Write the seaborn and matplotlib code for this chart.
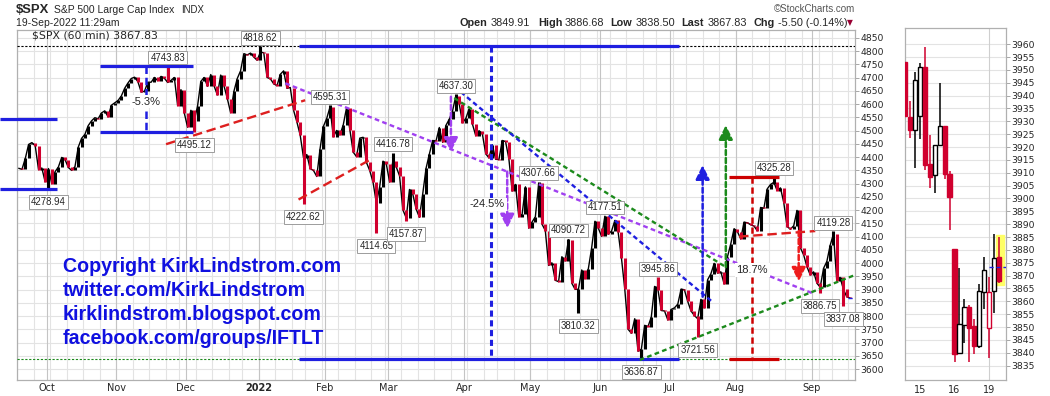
import numpy as np
import pandas as pd
import matplotlib
matplotlib.use("Agg")
import matplotlib.pyplot as plt
from matplotlib.patches import Rectangle
import seaborn as sns

# ---- data --------------------------------------------------------------
START = "2021-09-20"
END = "2022-09-19"
HOLIDAYS = ["2021-11-25", "2021-12-24", "2022-01-17", "2022-02-21",
            "2022-04-15", "2022-05-30", "2022-06-20", "2022-07-04", "2022-09-05"]

# daily closes (one per trading day)
sep21 = [4358, 4354, 4395, 4448, 4455, 4443, 4353, 4359, 4307]
oct21 = [4357, 4300, 4345, 4363, 4399, 4391, 4361, 4350, 4364, 4438, 4471,
         4486, 4519, 4537, 4549, 4545, 4567, 4575, 4552, 4596, 4605]
nov21 = [4614, 4631, 4660, 4680, 4697, 4702, 4685, 4646, 4649, 4683, 4683,
         4701, 4689, 4705, 4698, 4682, 4690, 4701, 4595, 4655, 4567]
dec21 = [4513, 4577, 4538, 4592, 4686, 4701, 4668, 4712, 4669, 4635, 4710,
         4669, 4621, 4568, 4649, 4697, 4726, 4791, 4786, 4793, 4778, 4766]
jan22 = [4797, 4794, 4701, 4696, 4677, 4670, 4713, 4726, 4660, 4663, 4577,
         4533, 4483, 4398, 4410, 4357, 4350, 4327, 4432, 4516]
feb22 = [4546, 4589, 4477, 4501, 4484, 4522, 4587, 4504, 4419, 4402, 4472,
         4475, 4380, 4349, 4305, 4226, 4288, 4385, 4374]
mar22 = [4306, 4387, 4363, 4329, 4201, 4171, 4278, 4260, 4204, 4173, 4262,
         4358, 4412, 4463, 4461, 4512, 4456, 4520, 4543, 4575, 4632, 4602, 4530]
apr22 = [4546, 4583, 4525, 4481, 4500, 4488, 4413, 4397, 4447, 4392, 4391,
         4463, 4459, 4394, 4272, 4297, 4175, 4184, 4288, 4132]
may22 = [4155, 4175, 4301, 4147, 4123, 3991, 4001, 3935, 3930, 4024, 4008,
         4088, 3924, 3901, 3901, 3974, 3941, 3979, 4058, 4158, 4132]
jun22 = [4101, 4177, 4109, 4121, 4161, 4116, 4018, 3901, 3750, 3735, 3790,
         3667, 3675, 3765, 3760, 3796, 3912, 3900, 3821, 3819, 3785]
jul22 = [3825, 3831, 3845, 3902, 3899, 3855, 3819, 3802, 3790, 3863, 3831,
         3937, 3960, 3999, 3962, 3967, 3921, 4024, 4073, 4130]
aug22 = [4119, 4091, 4155, 4152, 4145, 4140, 4122, 4210, 4207, 4280, 4297,
         4305, 4274, 4284, 4228, 4138, 4128, 4141, 4199, 4058, 4031, 3986, 3955]
sep22 = [3967, 3924, 3909, 3980, 4006, 4067, 4110, 3933, 3946, 3901, 3873, 3868]

# labelled pivots: date, price, side
pivot_dates = ["2022-01-03", "2021-11-22", "2021-12-03", "2021-10-01", "2022-02-02",
               "2022-01-21", "2022-03-02", "2022-02-23", "2022-03-08", "2022-03-29",
               "2022-05-04", "2022-05-17", "2022-06-02", "2022-06-27", "2022-05-20",
               "2022-06-17", "2022-07-14", "2022-08-16", "2022-09-12", "2022-09-06",
               "2022-09-15"]
pivot_prices = [4818.62, 4743.83, 4495.12, 4278.94, 4595.31, 4222.62, 4416.78,
                4114.65, 4157.87, 4637.30, 4307.66, 4090.72, 4177.51, 3945.86,
                3810.32, 3636.87, 3721.56, 4325.28, 4119.28, 3886.75, 3837.08]
pivot_sides = ["hi", "hi", "lo", "lo", "hi", "lo", "hi", "lo", "lo", "hi", "hi",
               "hi", "hi", "hi", "lo", "lo", "lo", "hi", "hi", "lo", "lo"]

# horizontal levels: start, end, price
blue_levels = [("2021-09-13", "2021-10-06", 4543), ("2021-09-13", "2021-10-06", 4278.94),
               ("2021-10-25", "2021-12-03", 4743.83), ("2021-10-25", "2021-12-03", 4495.12),
               ("2022-01-20", "2022-07-07", 4818.62), ("2022-01-20", "2022-07-07", 3636.87)]
red_levels = [("2022-07-28", "2022-08-18", 4325.28), ("2022-07-28", "2022-08-18", 3636.87)]

# trendlines: start date, price, end date, price
red_trends = [("2021-11-22", 4449, "2022-01-24", 4615), ("2022-01-20", 4240, "2022-02-22", 4393),
              ("2022-08-02", 4100, "2022-09-02", 4121)]
purple_trends = [("2022-01-13", 4679, "2022-09-01", 3887)]
green_trends = [("2022-03-29", 4623, "2022-07-27", 3985), ("2022-06-17", 3634, "2022-09-21", 3955)]
blue_trends = [("2022-03-31", 4646, "2022-07-21", 3853)]

# arrows: date, from, to
purple_arrows = [("2022-03-28", 4628, 4420), ("2022-04-21", 4345, 4131)]
blue_arrows = [("2022-07-18", 3873, 4370)]
green_arrows = [("2022-07-27", 3985, 4521)]
red_arrows = [("2022-08-26", 4121, 3930)]

# percentage moves
pct_dates = ["2021-11-12", "2022-04-12", "2022-08-08"]
pct_prices = [4609, 4222, 3974]
pct_texts = ["-5.3%", "-24.5%", "18.7%"]

# right panel: last 60-min candles
c_open = [3953, 3931.6, 3926.7, 3932, 3951, 3913.4, 3909.2, 3920.8, 3928.2, 3909.6,
          3880.4, 3839.8, 3850.6, 3857.7, 3850.4, 3842.8, 3863.5, 3849.5, 3864, 3877.2]
c_high = [3953, 3938, 3949.3, 3952.8, 3959, 3924.7, 3920.8, 3944.8, 3928.2, 3910.5,
          3880.4, 3873.1, 3860.8, 3858.5, 3853.2, 3866.8, 3877.2, 3869.6, 3886.2, 3885.2]
c_low = [3930, 3923.4, 3911.8, 3923, 3911, 3904, 3902, 3920.8, 3907.5, 3887.7,
         3836.5, 3839.8, 3843.9, 3836.5, 3839.6, 3842, 3857, 3837.8, 3855.6, 3867.3]
c_close = [3932, 3926.7, 3946, 3951, 3913, 3908.5, 3920.8, 3928.2, 3909.6, 3900.7,
           3839.6, 3851.1, 3857.7, 3849.8, 3842.8, 3864, 3872.2, 3863.5, 3876.8, 3867.8]
day_labels = ["15", "16", "19"]
day_first_bar = [3, 10, 17]
prev_close = 3873.33

RED = "#d0002e"
BLUE = "#1f1fe0"
PURPLE = "#a040f0"
GREEN = "#1c8a1c"

sns.set_style("white")
plt.rcParams["font.family"] = ["Liberation Sans", "DejaVu Sans"]

W, H = 1050, 396
fig = plt.figure(figsize=(W / 100, H / 100), dpi=100)


def fx(px):
    return px / W


def fy(py):
    return 1 - py / H


def pos(d):
    return float(np.busday_count(START, d, holidays=HOLIDAYS))


ax = fig.add_axes([fx(17), fy(380), (855 - 17) / W, (380 - 30) / H])
ax2 = fig.add_axes([fx(905), fy(380), (1006 - 905) / W, (380 - 28) / H])

# ---- main price chart ---------------------------------------------------
dates = pd.bdate_range(START, END, freq="C", holidays=HOLIDAYS)
closes = np.array(sep21 + oct21 + nov21 + dec21 + jan22 + feb22 + mar22 + apr22
                  + may22 + jun22 + jul22 + aug22 + sep22, dtype=float)
assert len(dates) == len(closes)
idx = np.arange(len(closes))
prev = np.r_[closes[0], closes[:-1]]
hi = np.maximum(prev, closes)
lo = np.minimum(prev, closes)
for d, p in zip(pivot_dates, pivot_prices):
    i = int(pos(d))
    hi[i] = max(hi[i], p)
    lo[i] = min(lo[i], p)
cols = np.where(closes >= prev, "black", RED)

ax.set_xlim(0, 253)
ax.set_ylim(3558.5, 4880.2)

# grid
for v in range(3600, 4900, 50):
    ax.axhline(v, color="#e3e3e3", lw=0.8, zorder=0)
wk = np.asarray(dates.isocalendar().week, dtype=int)
mo = np.asarray(dates.month, dtype=int)
week_starts = idx[np.r_[True, wk[1:] != wk[:-1]]]
month_starts = idx[np.r_[False, mo[1:] != mo[:-1]]]
for i in week_starts:
    ax.axvline(i, color="#e3e3e3", lw=0.8, zorder=0)
for i in month_starts:
    ax.axvline(i, color="#c4c4c4", lw=0.8, zorder=0)

sns.lineplot(x=idx + 0.5, y=closes, ax=ax, color="black", lw=1.0, zorder=2)
ax.vlines(idx + 0.5, lo, hi, colors=cols, lw=2.2, zorder=2)

# full-width reference lines at the extremes
ax.axhline(4818.62, color="black", lw=0.8, ls=(0, (2, 1.5)), zorder=3)
ax.axhline(3636.87, color=GREEN, lw=0.8, ls=(0, (2, 1.5)), zorder=3)

for d1, d2, p in blue_levels:
    ax.plot([pos(d1), pos(d2)], [p, p], color=BLUE, lw=2.3, zorder=4,
            clip_on=False, solid_capstyle="butt")
for d1, d2, p in red_levels:
    ax.plot([pos(d1), pos(d2)], [p, p], color="#cc0000", lw=2.3, zorder=4,
            solid_capstyle="butt")

for lines, color, ls in [(red_trends, "#dd1f1f", (0, (4, 2))),
                         (purple_trends, PURPLE, (0, (2, 1.4))),
                         (green_trends, GREEN, (0, (2, 1.4))),
                         (blue_trends, BLUE, (0, (2, 1.4)))]:
    for d1, p1, d2, p2 in lines:
        ax.plot([pos(d1), pos(d2)], [p1, p2], color=color, lw=1.7, ls=ls,
                zorder=4, clip_on=False)

# measuring verticals
ax.plot([pos("2021-11-12")] * 2, [4743.83, 4495.12], color=BLUE, lw=1.8,
        ls=(0, (3, 1.5)), zorder=4)
ax.plot([pos("2022-04-13")] * 2, [4818.62, 3636.87], color=BLUE, lw=2.2,
        ls=(0, (2, 1.2)), zorder=4)
ax.plot([pos("2022-08-08")] * 2, [4325.28, 3636.87], color="#cc0000", lw=1.8,
        ls=(0, (2.5, 1.5)), zorder=4)
ax.plot([pos("2022-09-19"), 253], [3867.83, 3867.83], color=BLUE, lw=1,
        ls=(0, (3, 2)), zorder=4)

for arrows, color in [(purple_arrows, PURPLE), (blue_arrows, BLUE),
                      (green_arrows, GREEN), (red_arrows, "#ee1c1c")]:
    for d, p1, p2 in arrows:
        ax.annotate("", xy=(pos(d), p2), xytext=(pos(d), p1),
                    arrowprops=dict(arrowstyle="-|>,head_length=0.85,head_width=0.42",
                                    color=color, lw=1.8, ls=(0, (2, 1.2)),
                                    shrinkA=0, shrinkB=0, mutation_scale=10),
                    zorder=4)

for d, p, t in zip(pct_dates, pct_prices, pct_texts):
    ax.text(pos(d), p, t, ha="center", va="center", fontsize=8, zorder=6,
            bbox=dict(boxstyle="square,pad=0.15", fc="white", ec="none"))

for d, p, s in zip(pivot_dates, pivot_prices, pivot_sides):
    off = 6.2 if s == "hi" else -9.4
    ax.annotate(f"{p:.2f}", xy=(pos(d) + 0.5, p), xytext=(0, off),
                textcoords="offset points", ha="center", va="center",
                fontsize=6.9, zorder=7, annotation_clip=False,
                bbox=dict(boxstyle="square,pad=0.2", fc="white", ec="#9c9c9c", lw=0.7))

# axes styling
ax.yaxis.tick_right()
ax.set_yticks(range(3600, 4851, 50))
ax.tick_params(axis="y", length=3, width=0.6, color="#999999", pad=1,
               labelsize=6.7, labelfontfamily="DejaVu Sans")
ax.set_xticks(month_starts)
labels = [str(d.year) if d.month == 1 else d.strftime("%b") for d in dates[month_starts]]
ax.set_xticklabels(labels, fontfamily="DejaVu Sans")
ax.tick_params(axis="x", length=0, pad=2.5, labelsize=7)
for t, d in zip(ax.get_xticklabels(), dates[month_starts]):
    if d.month == 1:
        t.set_fontweight("bold")
for sp in ax.spines.values():
    sp.set_color("#b0b0b0")
    sp.set_linewidth(0.9)

# ---- right panel: 60-min candles ---------------------------------------
ax2.set_xlim(0.2, 20.4)
ax2.set_ylim(3829.4, 3966.3)
for v in range(3835, 3965, 5):
    ax2.axhline(v, color="#e3e3e3", lw=0.8, zorder=0)
ax2.axvline(day_first_bar[-1], color="#cfcfcf", lw=0.8, zorder=0)
ax2.add_patch(Rectangle((18.35, 3866.4), 1.55, 19.2, color="#ffff66", zorder=1))
prev_c = c_open[0]
for k in range(len(c_open)):
    o, h, l, c = c_open[k], c_high[k], c_low[k], c_close[k]
    color = "black" if c >= prev_c else RED
    face = color if c < o else "white"
    ax2.vlines(k, l, h, color=color, lw=1.1, zorder=2)
    ax2.bar(k, max(abs(c - o), 0.3), bottom=min(o, c), width=0.85,
            color=face, edgecolor=color, lw=1.0, zorder=3)
    prev_c = c
ax2.plot([day_first_bar[-1], 20.4], [prev_close, prev_close], color=BLUE, lw=1,
         ls=(0, (3, 2)), zorder=4)
ax2.yaxis.tick_right()
ax2.set_yticks(range(3835, 3961, 5))
ax2.tick_params(axis="y", length=3, width=0.6, color="#999999", pad=1,
                labelsize=6.7, labelfontfamily="DejaVu Sans")
ax2.set_xticks(day_first_bar)
ax2.set_xticklabels(day_labels, fontfamily="DejaVu Sans")
ax2.set_xticks(range(0, 21), minor=True)
ax2.tick_params(axis="x", which="major", length=2, color="#999999", pad=1.5, labelsize=7)
ax2.tick_params(axis="x", which="minor", length=1.5, color="#bbbbbb")
for sp in ax2.spines.values():
    sp.set_color("#b0b0b0")
    sp.set_linewidth(0.9)

# ---- header and overlay text --------------------------------------------
fig.text(fx(16), fy(10), "$SPX", fontsize=9.4, fontweight="bold", va="center")
fig.text(fx(54), fy(10), "S&P 500 Large Cap Index", fontsize=7.5, va="center")
fig.text(fx(181), fy(10), "INDX", fontsize=6.9, va="center")
fig.text(fx(16), fy(22.7), "19-Sep-2022 11:29am", fontsize=7.5, va="center")
fig.text(fx(855), fy(9), "\u00a9StockCharts.com", fontsize=7, color="#555555",
         ha="right", va="center")
quote = [("Open", 460, "3849.91", 490.7), ("High", 538.3, "3886.68", 565),
         ("Low", 610, "3838.50", 636), ("Last", 681.7, "3867.83", 707.7),
         ("Chg", 753.7, "-5.50 (-0.14%)", 778.3)]
for lab, x1, val, x2 in quote:
    fig.text(fx(x1), fy(22.7), lab, fontsize=7.8, fontweight="bold", va="center")
    fig.text(fx(x2), fy(22.7), val, fontsize=7.8, va="center")
fig.text(fx(847), fy(23), "\u25bc", fontsize=5.5, color="#990033", va="center",
         family=["DejaVu Sans"])
fig.text(fx(31.7), fy(35), "$SPX (60 min) 3867.83", fontsize=7.8, va="center",
         family=["DejaVu Sans"])

credits = ["Copyright KirkLindstrom.com", "twitter.com/KirkLindstrom",
           "kirklindstrom.blogspot.com", "facebook.com/groups/IFTLT"]
for j, line in enumerate(credits):
    fig.text(fx(63), fy(266.7 + 23.9 * j), line, fontsize=14.1, fontweight="bold",
             color="#1010e0", va="center")

fig.savefig("out.png", dpi=100)
